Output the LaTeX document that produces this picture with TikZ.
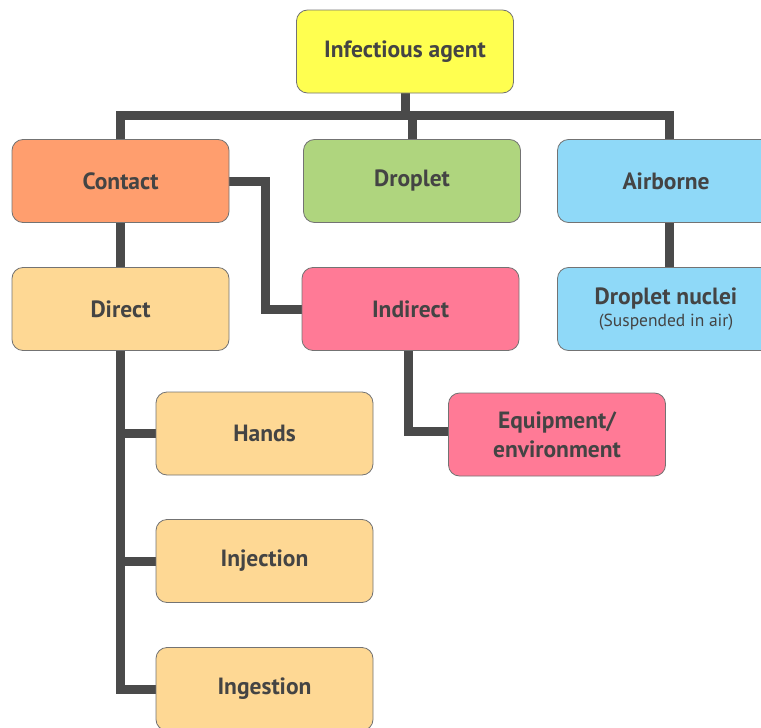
\documentclass[tikz,border=0pt]{standalone}
\usepackage{fontspec}
\setmainfont{PT Sans}
\usetikzlibrary{backgrounds}
\definecolor{txt}{HTML}{444444}
\definecolor{ln}{HTML}{4A4A4A}
\definecolor{cyel}{HTML}{FFFF50}
\definecolor{corg}{HTML}{FF9E6E}
\definecolor{cgrn}{HTML}{AFD57E}
\definecolor{cblu}{HTML}{8FD9F8}
\definecolor{clor}{HTML}{FED894}
\definecolor{cpnk}{HTML}{FF7A96}
\tikzset{
  box/.style={draw=black!55, line width=0.8pt, rounded corners=11pt,
    minimum width=217pt, minimum height=83pt, inner sep=0pt,
    text=txt, font=\bfseries\fontsize{23.5}{29}\selectfont, align=center},
  conn/.style={draw=ln, line width=9pt, line join=miter}
}
\begin{document}
\begin{tikzpicture}[x=1pt,y=-1pt]
\useasboundingbox (0,0) rectangle (761,728);
\clip (0,0) rectangle (761,728);
\node[box, fill=cyel] (agent) at (405,51.5) {Infectious agent};
\node[box, fill=corg] (contact) at (120.5,181) {Contact};
\node[box, fill=cgrn] (droplet) at (412,181) {Droplet};
\node[box, fill=cblu] (airborne) at (666,181) {Airborne};
\node[box, fill=cblu] (nuclei) at (666,309) {Droplet nuclei\\[-7pt]{\mdseries\fontsize{17.5}{20}\selectfont(Suspended in air)}};
\node[box, fill=clor] (direct) at (120.5,309) {Direct};
\node[box, fill=cpnk] (indirect) at (410.5,309) {Indirect};
\node[box, fill=clor] (hands) at (264.5,433.5) {Hands};
\node[box, fill=clor] (injection) at (264.5,561) {Injection};
\node[box, fill=clor] (ingestion) at (264.5,689) {Ingestion};
\node[box, fill=cpnk] (equip) at (557,434.5) {Equipment/\\environment};
\coordinate (bar) at (405,115.5);
\coordinate (jog) at (265,0);
\coordinate (airx) at (669,0);
\begin{scope}[on background layer]
\draw[conn] (agent.south) -- (bar);
\draw[conn] (contact.north) |- (bar) -| (airx |- airborne.north);
\draw[conn] (bar -| droplet.north) -- (droplet.north);
\draw[conn] (contact.south) -- (direct.north);
\draw[conn] (contact.east) -| (jog |- indirect.west) -- (indirect.west);
\draw[conn] (airx |- airborne.south) -- (airx |- nuclei.north);
\draw[conn] (direct.south) |- (ingestion.west);
\draw[conn] (hands.west -| direct.south) -- (hands.west);
\draw[conn] (injection.west -| direct.south) -- (injection.west);
\draw[conn] ([xshift=-2pt]indirect.south) |- ([yshift=3pt]equip.west);
\end{scope}
\end{tikzpicture}
\end{document}
